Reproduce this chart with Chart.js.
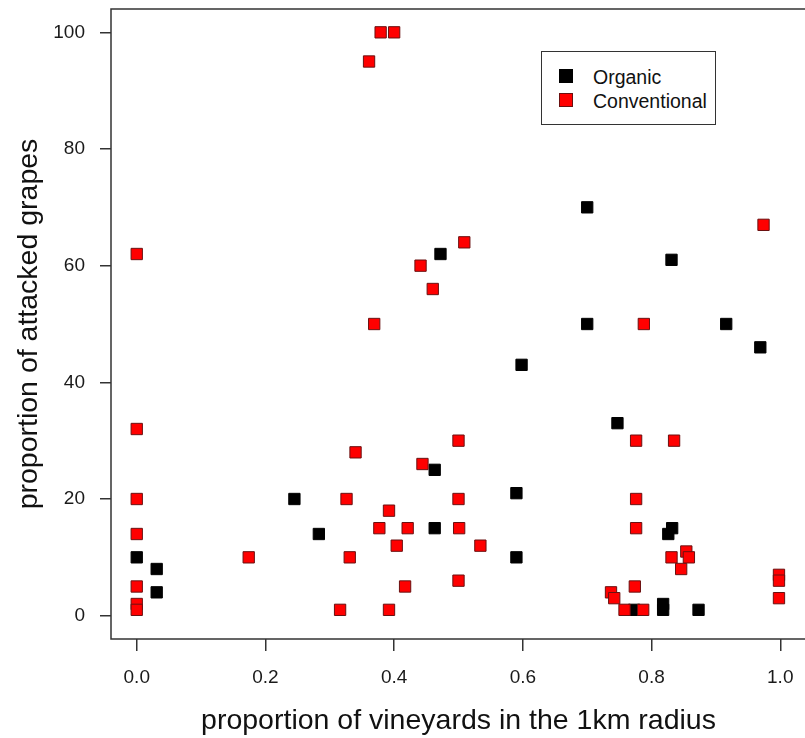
<!DOCTYPE html>
<html>
<head>
<meta charset="utf-8">
<script src="https://cdn.jsdelivr.net/npm/chart.js@4.4.0/dist/chart.umd.min.js"></script>
<style>
  html, body { margin: 0; padding: 0; background: #fff; overflow: hidden; }
  #wrap { position: relative; width: 815px; height: 738px; }
  #legend {
    position: absolute; left: 541px; top: 51px; width: 173px; height: 72px;
    border: 1.5px solid #333; background: #fff;
    font-family: 'Liberation Sans', Arial, sans-serif; font-size: 19.5px; color: #111;
  }
  #legend .item { position: absolute; left: 17px; height: 24px; line-height: 24px; }
  #legend .sw { position: absolute; left: 0; top: 4px; width: 14px; height: 14px; box-sizing: border-box; }
  #legend .lab { position: absolute; left: 34px; top: 0; white-space: nowrap; }
</style>
</head>
<body>
<div id="wrap">
  <canvas id="scatter" width="815" height="738"></canvas>
  <div id="legend">
    <div class="item" style="top:13px"><span class="sw" style="background:#000;border:1px solid #000"></span><span class="lab">Organic</span></div>
    <div class="item" style="top:37px"><span class="sw" style="background:#ff0000;border:1px solid #6a1010"></span><span class="lab">Conventional</span></div>
  </div>
</div>
<script>
  // data
  var organicX = [0, 0.031, 0.031, 0.245, 0.283, 0.463, 0.463, 0.472, 0.590, 0.590, 0.598, 0.700, 0.700, 0.747, 0.773, 0.818, 0.818, 0.826, 0.832, 0.831, 0.873, 0.916, 0.969];
  var organicY = [10, 8, 4, 20, 14, 25, 15, 62, 21, 10, 43, 70, 50, 33, 1, 2, 1, 14, 15, 61, 1, 50, 46];

  var convX = [0, 0, 0, 0, 0, 0, 0, 0.174, 0.316, 0.326, 0.331, 0.340, 0.361, 0.369, 0.377, 0.379, 0.392, 0.392, 0.400, 0.404, 0.417, 0.421, 0.441, 0.444, 0.460, 0.500, 0.500, 0.501, 0.500, 0.509, 0.534, 0.737, 0.742, 0.758, 0.774, 0.776, 0.776, 0.776, 0.787, 0.788, 0.831, 0.835, 0.846, 0.854, 0.858, 0.974, 0.998, 0.998, 0.998];
  var convY = [62, 32, 20, 14, 5, 2, 1, 10, 1, 20, 10, 28, 95, 50, 15, 100, 18, 1, 100, 12, 5, 15, 60, 26, 56, 30, 20, 15, 6, 64, 12, 4, 3, 1, 5, 30, 20, 15, 1, 50, 10, 30, 8, 11, 10, 67, 7, 6, 3];

  var xTicks = [0, 0.2, 0.4, 0.6, 0.8, 1.0];
  var yTicks = [0, 20, 40, 60, 80, 100];

  function pts(xs, ys) {
    return xs.map(function(x, i) { return { x: x, y: ys[i] }; });
  }

  // R style box around the plot region
  var frame = {
    id: 'frame',
    beforeDatasetsDraw: function(chart) {
      var a = chart.chartArea, c = chart.ctx;
      c.save();
      c.strokeStyle = '#333';
      c.lineWidth = 1.5;
      c.strokeRect(a.left, a.top, a.right - a.left, a.bottom - a.top);
      c.restore();
    }
  };

  var ctx = document.getElementById('scatter');
  var myChart = new Chart(ctx, {
    type: 'scatter',
    data: {
      datasets: [{
        label: 'Organic',
        data: pts(organicX, organicY),
        pointStyle: 'rect',
        pointRadius: 8,
        pointHoverRadius: 8,
        backgroundColor: '#000',
        borderColor: '#000',
        borderWidth: 1,
        order: 1
      }, {
        label: 'Conventional',
        data: pts(convX, convY),
        pointStyle: 'rect',
        pointRadius: 8,
        pointHoverRadius: 8,
        backgroundColor: '#ff0000',
        borderColor: '#6a1010',
        borderWidth: 1,
        order: 0
      }]
    },
    options: {
      responsive: false,
      animation: false,
      layout: { padding: { top: 9, right: 2, left: 0, bottom: 0 } },
      scales: {
        x: {
          type: 'linear',
          min: -0.04,
          max: 1.04,
          afterFit: function(s) { s.height = 99; s.paddingLeft = 0; s.paddingRight = 0; },
          afterBuildTicks: function(s) { s.ticks = xTicks.map(function(v) { return { value: v }; }); },
          border: { display: false },
          grid: { drawOnChartArea: false, drawTicks: true, tickLength: 12, color: '#333', lineWidth: 1.5 },
          ticks: {
            padding: 15,
            color: '#1a1a1a',
            font: { family: 'Liberation Sans', size: 19 },
            callback: function(v) { return v.toFixed(1); }
          },
          title: {
            display: true,
            text: 'proportion of vineyards in the 1km radius',
            color: '#111',
            font: { family: 'Liberation Sans', size: 28.5 },
            padding: { top: 0, bottom: 0 }
          }
        },
        y: {
          type: 'linear',
          min: -4,
          max: 104,
          afterFit: function(s) { s.width = 111; s.paddingTop = 0; s.paddingBottom = 0; },
          afterBuildTicks: function(s) { s.ticks = yTicks.map(function(v) { return { value: v }; }); },
          border: { display: false },
          grid: { drawOnChartArea: false, drawTicks: true, tickLength: 11, color: '#333', lineWidth: 1.5 },
          ticks: {
            padding: 15,
            color: '#1a1a1a',
            font: { family: 'Liberation Sans', size: 19 }
          },
          title: {
            display: true,
            text: 'proportion of attacked grapes',
            color: '#111',
            font: { family: 'Liberation Sans', size: 28.5 },
            padding: { top: 12, bottom: 0 }
          }
        }
      },
      plugins: {
        legend: { display: false },
        tooltip: { enabled: false }
      }
    },
    plugins: [frame]
  });
</script>
</body>
</html>
